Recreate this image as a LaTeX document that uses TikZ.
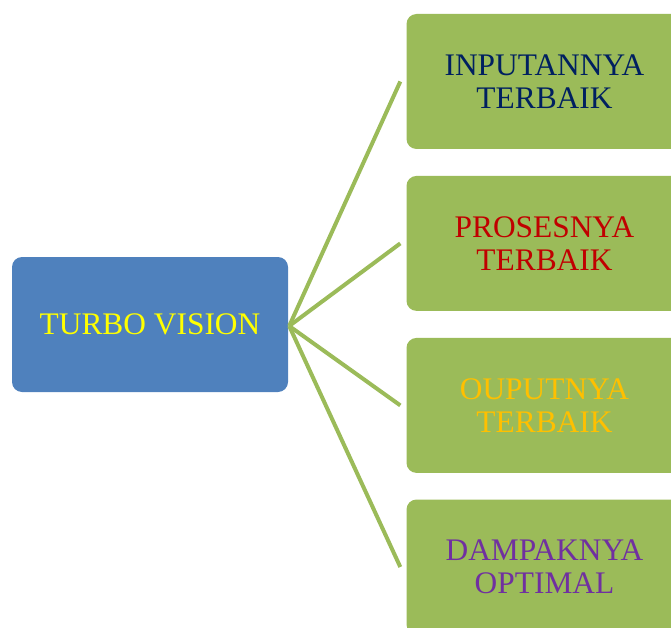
\documentclass[tikz,border=0pt]{standalone}
\usepackage{fontspec}
\setmainfont{Liberation Serif}
\definecolor{boxgreen}{HTML}{9BBB59}
\definecolor{boxblue}{HTML}{4F81BD}
\definecolor{tnavy}{HTML}{002060}
\definecolor{tred}{HTML}{C00000}
\definecolor{tgold}{HTML}{FFC000}
\definecolor{tpurple}{HTML}{7030A0}
\definecolor{tyellow}{HTML}{FFFF00}
\begin{document}
\begin{tikzpicture}[x=1pt,y=-1pt,
  basebox/.style={rounded corners=10pt, minimum width=276pt, minimum height=135pt,
    inner sep=0pt, align=center, font=\fontsize{31.4}{33}\selectfont},
  mainbox/.style={basebox, fill=boxblue, text=tyellow},
  leafbox/.style={basebox, fill=boxgreen},
  conn/.style={draw=boxgreen, line width=4pt}]
\useasboundingbox (0,0) rectangle (671,628);
\node[mainbox] (tv) at (150,324.5) {TURBO VISION};
\node[leafbox, text=tnavy] (b1) at (544.5,81.5) {INPUTANNYA\\TERBAIK};
\node[leafbox, text=tred] (b2) at (544.5,243.4) {PROSESNYA\\TERBAIK};
\node[leafbox, text=tgold] (b3) at (544.5,405.4) {OUPUTNYA\\TERBAIK};
\node[leafbox, text=tpurple] (b4) at (544.5,567) {DAMPAKNYA\\OPTIMAL};
\coordinate (hub) at ([xshift=1pt,yshift=-1.5pt]tv.east);
\foreach \b in {b1,b2,b3,b4}
  \draw[conn] (hub) -- ([xshift=-6pt]\b.west);
\end{tikzpicture}
\end{document}
